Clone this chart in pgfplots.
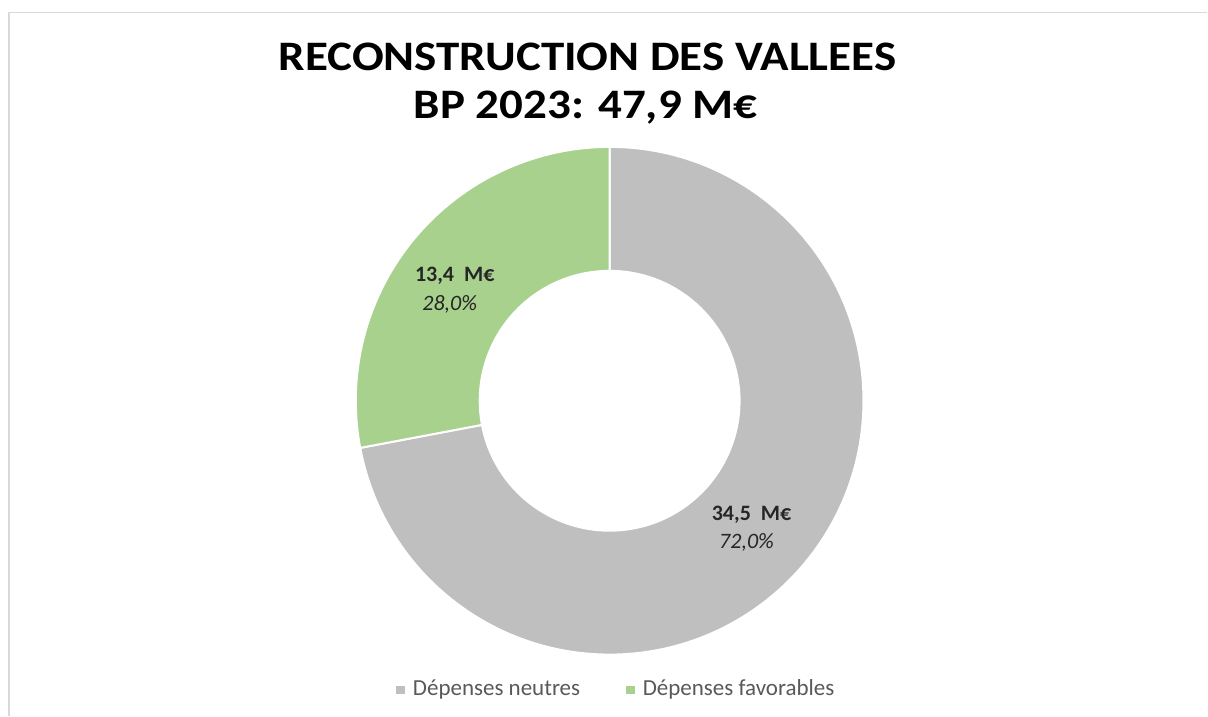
\documentclass[border=0pt]{standalone}
\usepackage{pgfplots}
\pgfplotsset{compat=1.18}
\usepackage{pgfplotstable}
\usepackage{fontspec}
\setmainfont{Carlito}
\definecolor{neutre}{HTML}{BFBFBF}
\definecolor{favor}{HTML}{A9D18E}
\definecolor{legtxt}{HTML}{595959}
\definecolor{cadre}{HTML}{D9D9D9}
\definecolor{lab}{HTML}{262626}

\pgfplotstableread{
cat value
neutres 34.5
favorables 13.4
}\donnees

\begin{document}
\begin{tikzpicture}
\pgfplotstablegetelem{0}{value}\of\donnees \let\vA\pgfplotsretval
\pgfplotstablegetelem{1}{value}\of\donnees \let\vB\pgfplotsretval
\pgfmathsetmacro\tot{\vA+\vB}
\pgfmathsetmacro\aA{360*\vA/\tot}
\pgfmathsetmacro\endA{90-\aA}
\pgfmathsetmacro\endB{90-\aA+360}
\begin{axis}[width=1208pt,height=716pt,scale only axis,
  xmin=0,xmax=1208,ymin=0,ymax=716,hide axis,clip=false,enlargelimits=false]
\path (axis cs:0,0) rectangle (axis cs:1208,716);
\draw[cadre, line width=1.5pt] (axis cs:9,0) -- (axis cs:9,703.5) -- (axis cs:1208,703.5);
\begin{scope}[shift={(axis cs:610,315)}]
  \fill[neutre, draw=white, line width=2pt, line join=round]
    (90:254pt) arc[start angle=90, end angle=\endA, radius=254pt]
    -- (\endA:130pt) arc[start angle=\endA, end angle=90, radius=130pt] -- cycle;
  \fill[favor, draw=white, line width=2pt, line join=round]
    (90:254pt) arc[start angle=90, end angle=\endB, radius=254pt]
    -- (\endB:130pt) arc[start angle=\endB, end angle=90, radius=130pt] -- cycle;
\end{scope}
% title
\node[anchor=base, font=\fontsize{42}{50}\selectfont\bfseries, xscale=1.12, inner sep=0pt]
  at (axis cs:588,645) {RECONSTRUCTION DES VALLEES};
\node[anchor=base, font=\fontsize{42}{50}\selectfont\bfseries, xscale=1.12, inner sep=0pt]
  at (axis cs:586,597) {BP 2023: 47,9 M€};
% data labels
\node[font=\fontsize{22}{26}\selectfont\bfseries, text=lab, inner sep=0pt] at (axis cs:455,440) {13,4\ \ M€};
\node[font=\fontsize{22}{26}\selectfont\itshape, text=lab, inner sep=0pt] at (axis cs:450,411) {28,0\%};
\node[font=\fontsize{22}{26}\selectfont\bfseries, text=lab, inner sep=0pt] at (axis cs:752,201) {34,5\ \ M€};
\node[font=\fontsize{22}{26}\selectfont\itshape, text=lab, inner sep=0pt] at (axis cs:747,173) {72,0\%};
% legend
\fill[neutre] (axis cs:396,22) rectangle (axis cs:405,30);
\node[anchor=base west, font=\fontsize{23}{27}\selectfont, text=legtxt, inner sep=0pt] at (axis cs:413,20) {Dépenses neutres};
\fill[favor] (axis cs:626,22) rectangle (axis cs:635,30);
\node[anchor=base west, font=\fontsize{23}{27}\selectfont, text=legtxt, inner sep=0pt] at (axis cs:643,20) {Dépenses favorables};
\end{axis}
\end{tikzpicture}
\end{document}
